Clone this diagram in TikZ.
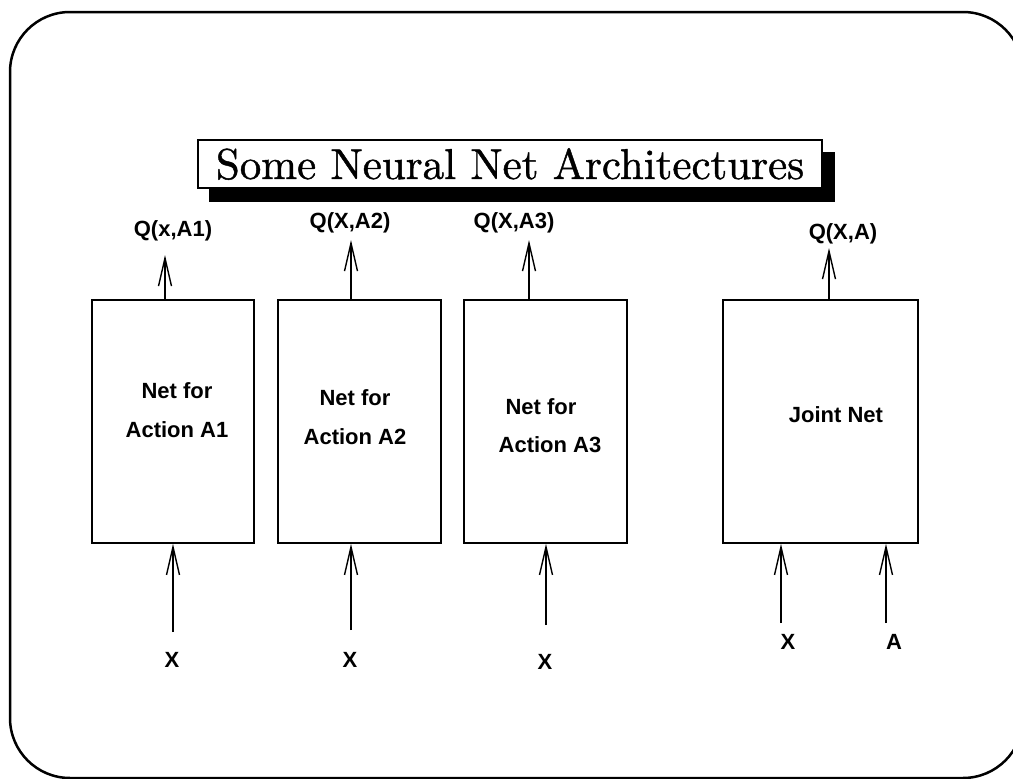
\documentclass[tikz,border=0pt]{standalone}
\usepackage{fontspec}
\newfontfamily\lab{Liberation Sans}
\newfontfamily\titlefont{lmroman10-regular.otf}[FakeBold=1]
\usetikzlibrary{arrows.meta,backgrounds}
\begin{document}
\begin{tikzpicture}[x=1pt,y=-1pt,
  every node/.style={inner sep=0pt},
  net/.style={draw,line width=1.6pt},
  lbl/.style={font=\lab\bfseries\fontsize{22}{26}\selectfont},
  boxtxt/.style={font=\lab\bfseries\fontsize{22}{26}\selectfont},
  arr/.style={line width=1.6pt,-{Straight Barb[length=28pt,width=13pt,line width=1.4pt]}}]
\useasboundingbox (0,0) rectangle (1013,779);
\begin{scope}
\clip (0,0) rectangle (1013,779);
\draw[line width=2.5pt,rounded corners=60pt] (10,12) rectangle (1023,778);
\end{scope}

% title
\node[draw,line width=1.8pt,fill=white,minimum width=624pt,minimum height=48pt,
      font=\titlefont\fontsize{43}{48}\selectfont] (title) at (510,164) {Some Neural Net Architectures};
\begin{scope}[on background layer]
\fill ([xshift=12pt,yshift=-13pt]title.south west) rectangle ([xshift=12pt,yshift=-13pt]title.north east);
\end{scope}

% boxes
\node[net,minimum width=162pt,minimum height=243pt] (n1) at (173,421.5) {};
\node[net,minimum width=163pt,minimum height=243pt] (n2) at (359.5,421.5) {};
\node[net,minimum width=163pt,minimum height=243pt] (n3) at (545.5,421.5) {};
\node[net,minimum width=195pt,minimum height=243pt] (n4) at (820.5,421.5) {};

\node[boxtxt] (n1a) at (177,391) {Net for};
\node[boxtxt] (n1b) at (177,430) {Action A1};
\node[boxtxt] (n2a) at (355,398) {Net for};
\node[boxtxt] (n2b) at (355,437) {Action A2};
\node[boxtxt] (n3a) at (541,407) {Net for};
\node[boxtxt] (n3b) at (550,445) {Action A3};
\node[boxtxt] (n4a) at (836,415) {Joint Net};

% outputs
\node[lbl] (q1) at (173,231) {Q(x,A1)};
\node[lbl] (q2) at (350,223) {Q(X,A2)};
\node[lbl] (q3) at (514,223) {Q(X,A3)};
\node[lbl] (q4) at (843,234) {Q(X,A)};
\coordinate (t1) at (165,255);
\coordinate (t2) at (351,240);
\coordinate (t3) at (529,240);
\coordinate (t4) at (829,248);
\draw[arr] (n1.north -| t1) -- (t1);
\draw[arr] (n2.north -| t2) -- (t2);
\draw[arr] (n3.north -| t3) -- (t3);
\draw[arr] (n4.north -| t4) -- (t4);

% inputs
\coordinate (b1) at (173,632);
\coordinate (b2) at (351,630);
\coordinate (b3) at (546,625);
\coordinate (b4) at (781,623);
\coordinate (b5) at (886,623);
\draw[arr] (b1) -- (b1 |- n1.south);
\draw[arr] (b2) -- (b2 |- n2.south);
\draw[arr] (b3) -- (b3 |- n3.south);
\draw[arr] (b4) -- (b4 |- n4.south);
\draw[arr] (b5) -- (b5 |- n4.south);
\node[lbl] (x1) at (172,660) {X};
\node[lbl] (x2) at (350,660) {X};
\node[lbl] (x3) at (545,662) {X};
\node[lbl] (x4) at (788,642) {X};
\node[lbl] (a4) at (894,642) {A};
\end{tikzpicture}
\end{document}
